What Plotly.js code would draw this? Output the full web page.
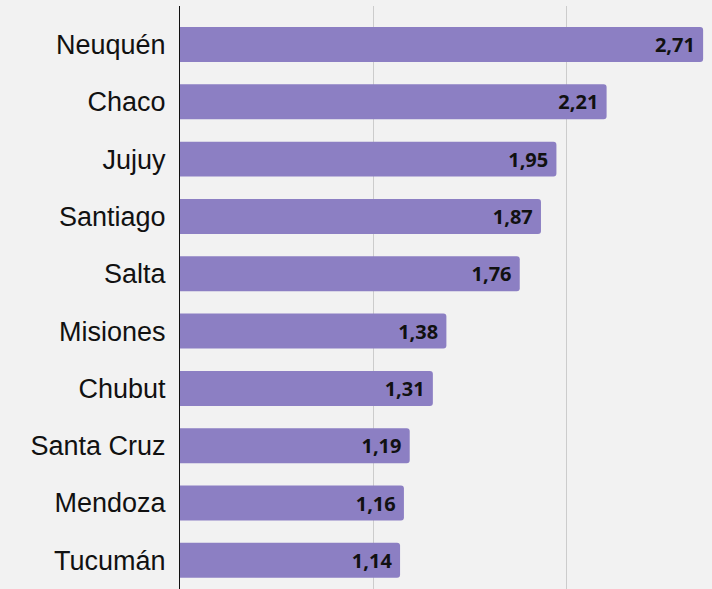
<!DOCTYPE html>
<html>
<head>
<meta charset="utf-8">
<script src="https://cdn.plot.ly/plotly-3.0.1.min.js"></script>
<style>html,body{margin:0;padding:0;background:#f2f2f2;}#chart{width:712px;height:589px;}</style>
</head>
<body>
<div id="chart"></div>
<script>
const provincias = ["Neuquén","Chaco","Jujuy","Santiago","Salta","Misiones","Chubut","Santa Cruz","Mendoza","Tucumán"];
const valores = [2.71, 2.21, 1.95, 1.87, 1.76, 1.38, 1.31, 1.19, 1.16, 1.14];

const trace = {
  type: 'bar',
  orientation: 'h',
  y: provincias,
  x: valores,
  marker: {color: '#8c7fc3', cornerradius: 3},
  texttemplate: '%{x:.2f}\u00a0',
  textposition: 'inside',
  insidetextanchor: 'end',
  textangle: 0,
  insidetextfont: {family: 'Noto Sans', size: 20, color: '#111111', weight: 'bold'},
  hoverinfo: 'none'
};

const layout = {
  width: 712, height: 589,
  paper_bgcolor: '#f2f2f2',
  plot_bgcolor: '#f2f2f2',
  margin: {l: 180, r: 0, t: 6, b: 0},
  separators: ',.',
  bargap: 0.39,
  showlegend: false,
  xaxis: {
    range: [0, 2.756],
    showgrid: true,
    gridcolor: '#cccccc',
    gridwidth: 1,
    dtick: 1,
    showticklabels: false,
    zeroline: false,
    showline: false,
    ticks: ''
  },
  yaxis: {
    type: 'category',
    range: [9.5, -0.672],
    showline: true,
    linecolor: '#111111',
    linewidth: 1,
    showgrid: false,
    ticks: 'outside',
    ticklen: 8,
    tickcolor: 'rgba(0,0,0,0)',
    tickfont: {family: 'Liberation Sans, Arial', size: 27, color: '#111111'}
  }
};

Plotly.newPlot('chart', [trace], layout, {displayModeBar: false, staticPlot: true});
</script>
</body>
</html>
